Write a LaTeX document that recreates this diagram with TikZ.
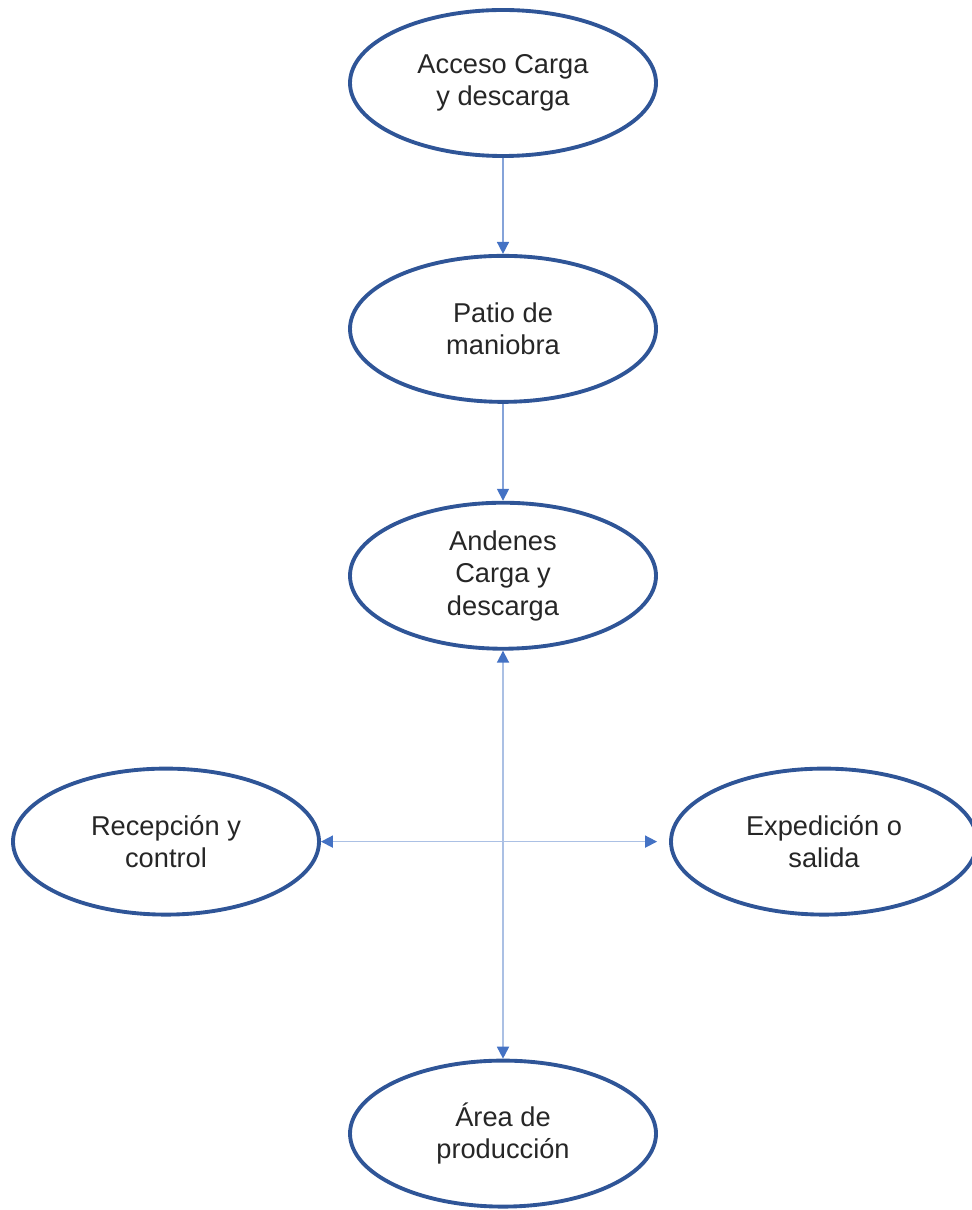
\documentclass[tikz,border=0pt]{standalone}
\usepackage{fontspec}
\setmainfont{Liberation Sans}
\usepackage{xcolor}
\usetikzlibrary{positioning,arrows.meta,shapes.geometric}

\definecolor{ovalblue}{HTML}{2F5597}
\definecolor{linkblue}{HTML}{4472C4}

\begin{document}
\begin{tikzpicture}[
    node distance=1.92cm,
    area/.style={ellipse, draw=ovalblue, line width=2.2pt, minimum width=6.12cm, minimum height=2.92cm, inner sep=0pt, align=center, text=black!85, font=\fontsize{15.5}{18.5}\selectfont},
    arrow/.style={-{Triangle[length=2.4mm, width=2.4mm, color=linkblue]}, draw=linkblue!65, line width=0.9pt},
    twoway/.style={{Triangle[length=2.4mm, width=2.4mm, color=linkblue]}-{Triangle[length=2.4mm, width=2.4mm, color=linkblue]}, draw=linkblue!45, line width=1pt}
]
\useasboundingbox (0,0) rectangle (19.44,-24.2);

% Main column
\node[area] (acceso) at (10.06,-1.66) {Acceso Carga\\y descarga};
\node[area, below=of acceso] (patio) {Patio de\\maniobra};
\node[area, below=1.94cm of patio] (andenes) {Andenes\\Carga y\\descarga};

% Side areas and production
\node[area, below=2.32cm of andenes, xshift=-6.74cm] (recepcion) {Recepción y\\control};
\node[area, below=2.32cm of andenes, xshift=6.42cm] (expedicion) {Expedición o\\salida};
\node[area, below=8.16cm of andenes] (produccion) {Área de\\producción};

\draw[arrow] (acceso) -- (patio);
\draw[arrow] (patio) -- (andenes);

% Crossing two-way links
\draw[twoway] (andenes) -- (produccion);
\draw[twoway, shorten >=2.4mm] (recepcion) -- (expedicion);

\end{tikzpicture}
\end{document}
